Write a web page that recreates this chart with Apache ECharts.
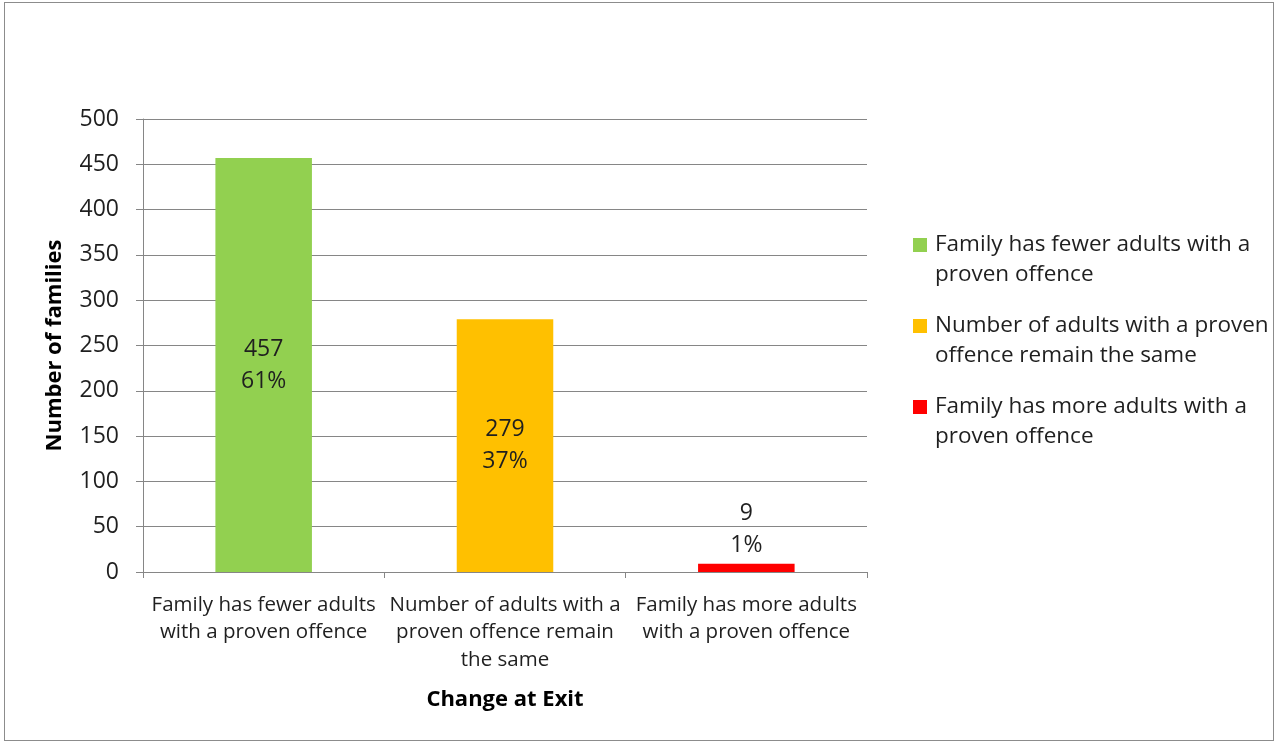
<!DOCTYPE html>
<html><head><meta charset="utf-8">
<script src="https://cdn.jsdelivr.net/npm/echarts@6/dist/echarts.min.js"></script>
<style>
html,body{margin:0;padding:0;background:#fff;}
#frame{position:absolute;left:4px;top:2px;width:1270px;height:739px;border:1.5px solid #8c8c8c;box-sizing:border-box;}
#c{position:absolute;left:0;top:0;width:1282px;height:746px;}
</style></head>
<body>
<div id="frame"></div>
<div id="c"></div>
<script>
const categories = ["Family has fewer adults\nwith a proven offence", "Number of adults with a\nproven offence remain\nthe same", "Family has more adults\nwith a proven offence"];
const seriesNames = ["Family has fewer adults with a\nproven offence", "Number of adults with a proven\noffence remain the same", "Family has more adults with a\nproven offence"];
const values = [457, 279, 9];
const percents = ["61%", "37%", "1%"];
const colors = ["#92D050", "#FFC000", "#FF0000"];
const yTicks = {min: 0, max: 500, interval: 50};

const font = "'Open Sans', sans-serif";
const chart = echarts.init(document.getElementById('c'));
const series = values.map((v, i) => ({
  name: seriesNames[i],
  type: 'bar',
  stack: 'all',
  barWidth: '40%',
  itemStyle: {color: colors[i]},
  label: {
    show: true,
    position: v < 50 ? 'top' : 'inside',
    distance: 2,
    formatter: () => values[i] + '\n' + percents[i],
    color: '#1f1f1f', fontFamily: font, fontSize: 23, lineHeight: 32
  },
  data: categories.map((c, j) => j === i ? v : '-')
}));
chart.setOption({
  animation: false,
  grid: {left: 143, right: 415, top: 119, bottom: 174, containLabel: false},
  legend: {
    orient: 'vertical', left: 913, top: 200, padding: 0, itemWidth: 14, itemHeight: 14, itemGap: -9,
    icon: 'rect',
    formatter: name => '\n' + name,
    textStyle: {fontFamily: font, fontSize: 22.5, color: '#1f1f1f', lineHeight: 30, padding: [0, 0, 0, 3]},
    data: seriesNames
  },
  xAxis: {
    type: 'category', data: categories,
    name: 'Change at Exit', nameLocation: 'middle', nameGap: 117,
    nameTextStyle: {fontFamily: font, fontSize: 22, fontWeight: 'bold', color: '#000'},
    axisLine: {lineStyle: {color: '#868686', width: 1}},
    axisTick: {show: true, length: 6, lineStyle: {color: '#868686'}},
    axisLabel: {fontFamily: font, fontSize: 20.5, color: '#1f1f1f', lineHeight: 27.5, margin: 19, interval: 0}
  },
  yAxis: {
    type: 'value', min: yTicks.min, max: yTicks.max, interval: yTicks.interval,
    name: 'Number of families', nameLocation: 'middle', nameGap: 77, nameRotate: 90,
    nameTextStyle: {fontFamily: font, fontSize: 22, fontWeight: 'bold', color: '#000'},
    axisLine: {show: true, lineStyle: {color: '#868686'}},
    axisTick: {show: true, length: 7, lineStyle: {color: '#868686'}},
    axisLabel: {fontFamily: font, fontSize: 23, color: '#1f1f1f', margin: 24},
    splitLine: {lineStyle: {color: '#868686', width: 1}}
  },
  series: series
});
</script>
</body></html>
